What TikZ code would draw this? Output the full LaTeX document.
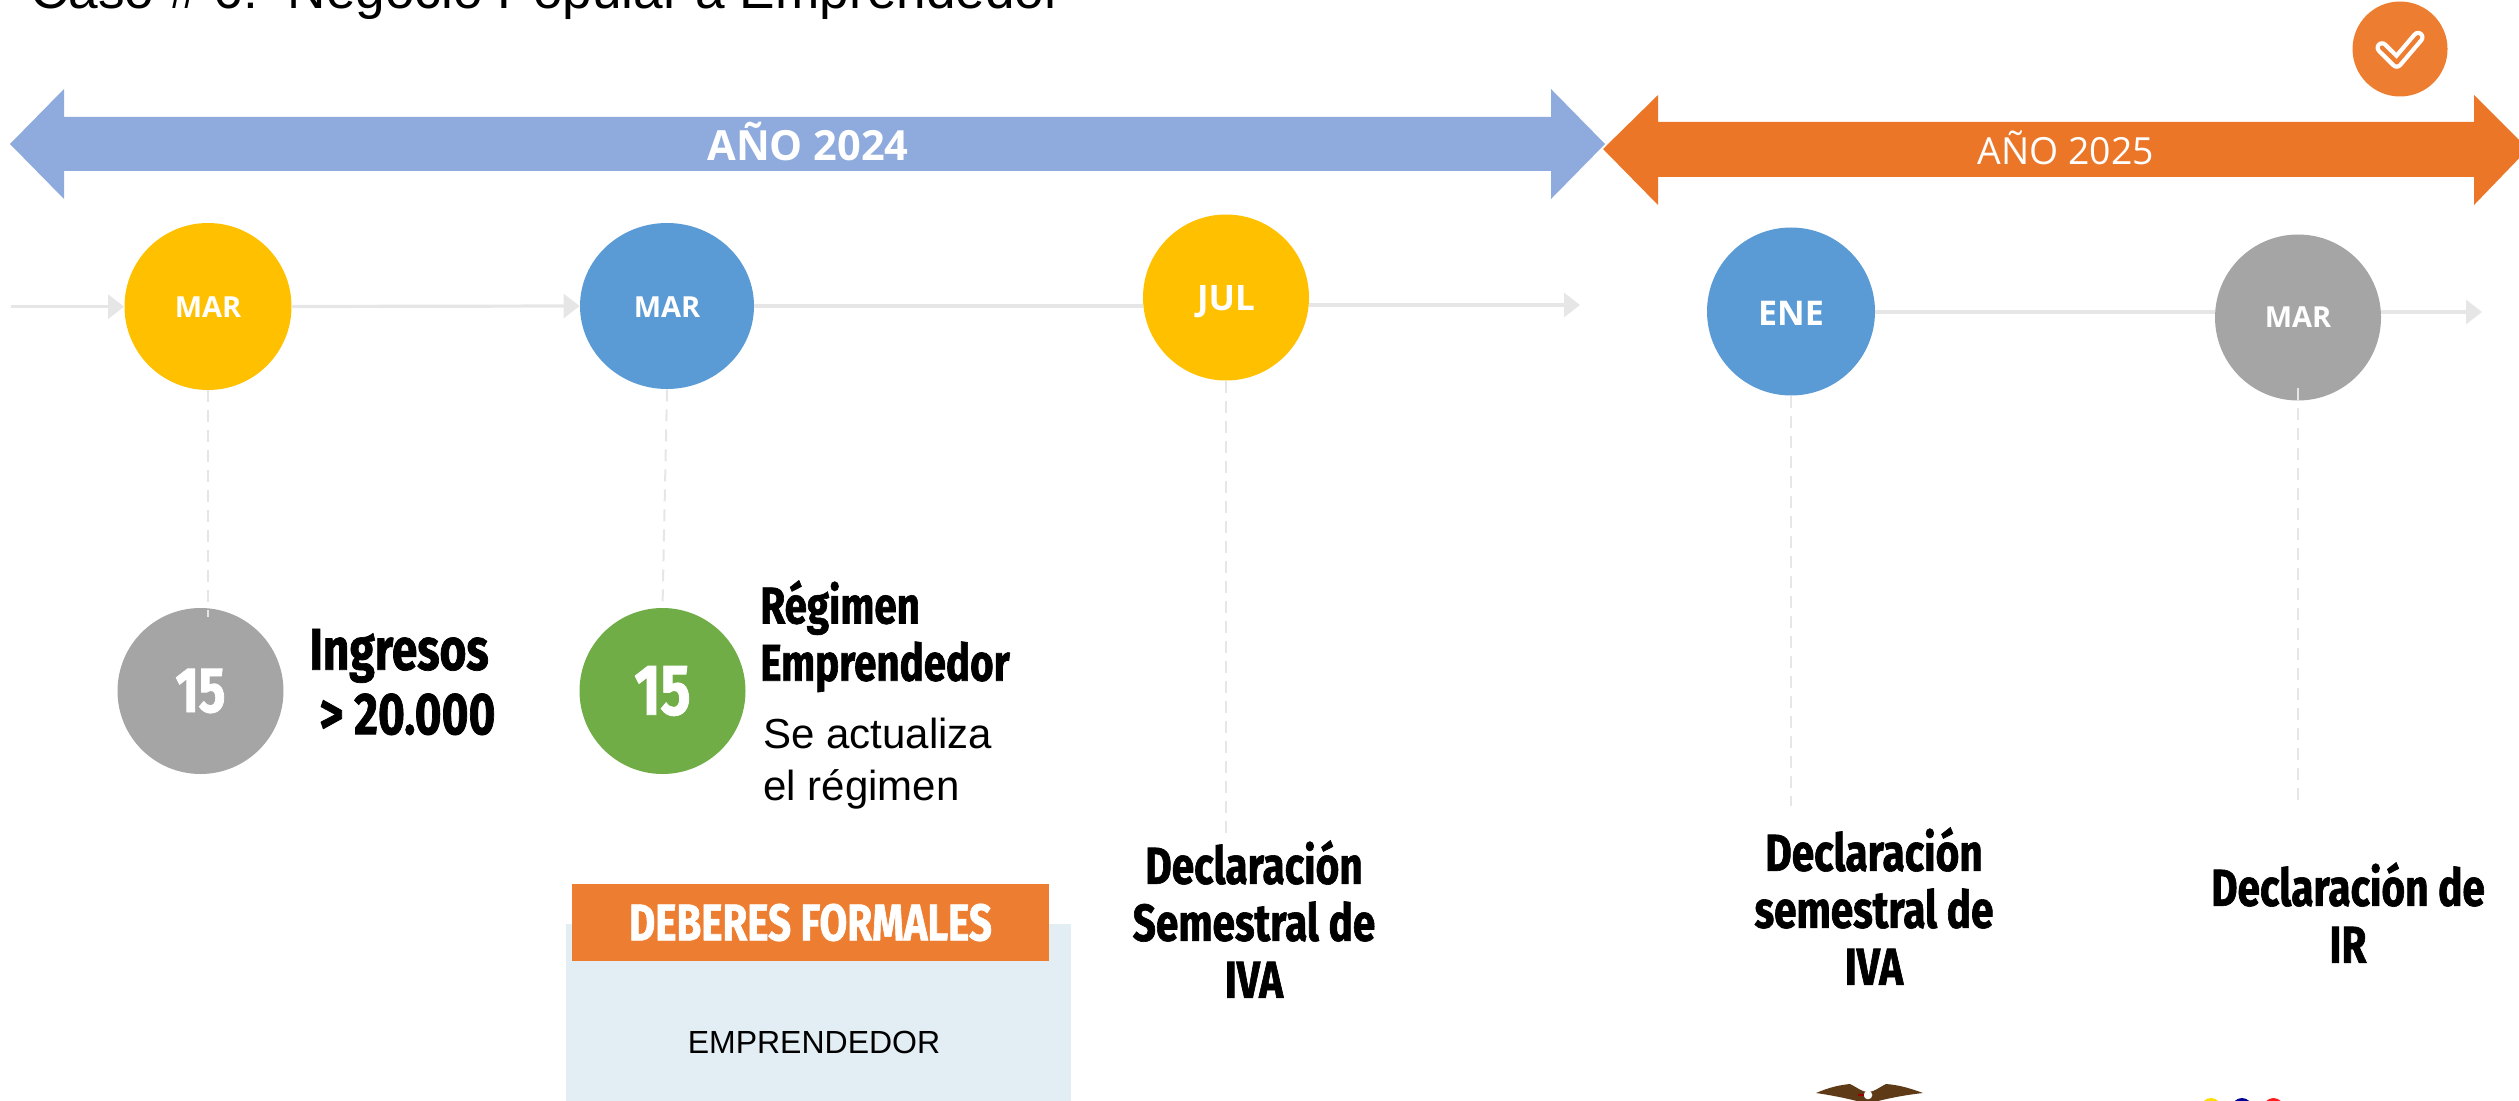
\documentclass[tikz,border=0pt]{standalone}
\usepackage{fontspec}
\usetikzlibrary{shapes.geometric,arrows.meta}
\setmainfont{Liberation Sans}
\newfontfamily\opn{Open Sans}
\newfontfamily\hd[FakeStretch=0.78,BoldFeatures={FakeStretch=0.78,FakeBold=1.2}]{Fira Sans}
\newcommand{\fs}[1]{\fontsize{#1}{#1}\selectfont}
\newcommand{\dn}[2]{\raisebox{-#1pt}[0pt][0pt]{#2}}
\definecolor{cblue}{HTML}{8FAADC}
\definecolor{corange}{HTML}{EB7628}
\definecolor{oo}{HTML}{ED7D31}
\definecolor{cyel}{HTML}{FFC000}
\definecolor{cbl}{HTML}{5B9BD5}
\definecolor{cgr}{HTML}{A5A5A5}
\definecolor{cgn}{HTML}{70AD47}
\definecolor{cln}{HTML}{E7E6E6}
\definecolor{cbox}{HTML}{E2EDF4}
\definecolor{eagle}{HTML}{5E3A17}
\tikzset{
 dot/.style={circle,draw=none,inner sep=0pt,minimum size=#1,text=white},
 tl/.style={draw=cln,line width=1.6pt,-{Triangle[length=8pt,width=12pt,fill=cln]},shorten >=0pt},
 tlplain/.style={draw=cln,line width=1.6pt},
 vd/.style={draw=cln,line width=1pt,dash pattern=on 6pt off 4pt},
 hdtxt/.style={font=\hd\bfseries\fs{26},align=center,inner sep=0pt},
}
\begin{document}
\begin{tikzpicture}[x=.5pt,y=-.5pt]
\useasboundingbox (0,0) rectangle (2519,1101);
\clip (0,0) rectangle (2519,1101);
% title
\node[anchor=base west,inner sep=0pt,font=\fs{26.6}] (title) at (30,9) {Caso \# 6:\ \ Negocio Popular a Emprendedor};
% band arrows
\fill[cblue] (10,144)--(64,89)--(64,117)--(1551,117)--(1551,89)--(1605,144)--(1551,199)--(1551,171)--(64,171)--(64,199)--cycle;
\fill[corange] (1603,149)--(1658,95)--(1658,122)--(2474,122)--(2474,95)--(2528,149)--(2474,205)--(2474,177)--(1658,177)--(1658,205)--cycle;
\node[inner sep=0pt,text=white,font=\opn\bfseries\fs{20.8}] (y24) at (808,142) {AÑO 2024};
\node[inner sep=0pt,text=white,font=\opn\fs{18.7}] (y25) at (2066,148) {AÑO 2025};
% check badge
\node[dot=47.5pt,fill=oo] (chk) at (2400,49) {};
\draw[white,line width=6.5pt,line cap=round,line join=round] (2382,47.7)--(2396.7,62.3)--(2418,37.3);
\draw[oo,line width=2.2pt,line cap=round,line join=round] (2382,47.7)--(2396.7,62.3)--(2418,37.3);
% month circles
\node[dot=83.5pt,fill=cyel,font=\opn\bfseries\fs{14.5}] (m1) at (208,306.5) {\dn{5.75}{MAR}};
\node[ellipse,inner sep=0pt,minimum width=87pt,minimum height=83pt,fill=cbl,text=white,font=\opn\bfseries\fs{14.5}] (m2) at (667,306) {\dn{6}{MAR}};
\node[dot=83pt,fill=cyel,font=\opn\bfseries\fs{17.5}] (m3) at (1226,297.5) {\dn{6.75}{JUL}};
\node[dot=84pt,fill=cbl,font=\opn\bfseries\fs{17}] (m4) at (1791,311.5) {\dn{7.1}{ENE}};
\node[dot=83pt,fill=cgr,font=\opn\bfseries\fs{14.5}] (m5) at (2298,317.5) {\dn{5.25}{MAR}};
% day circles
\node[dot=83pt,fill=cgr,font=\hd\bfseries\fs{32}] (d1) at (200.5,691) {15};
\node[dot=83pt,fill=cgn,font=\hd\bfseries\fs{36}] (d2) at (662.5,691) {15};
% timeline
\coordinate (s0) at (11,306.7);
\coordinate (e3) at (1580,305);
\coordinate (e5) at (2482,312);
\draw[tl] (s0)--(s0-|m1.west);
\draw[tl] (m1.east)--(m2.west);
\draw[tl] (m3.east|-e3)--(e3);
\draw[tlplain] (m2.east)--(m3.west|-m2.east);
\draw[tlplain] (m4.east|-e5)--(m5.west|-e5);
\draw[tl] (m5.east|-e5)--(e5);
% vertical dashes
\coordinate (v1) at (208,617);
\coordinate (v3) at (1226,837);
\coordinate (v4) at (1791,806);
\coordinate (v5) at (2298,800);
\coordinate (v5b) at (2298,388);
\draw[vd] (m1.south)--(v1);
\draw[vd] (m2.south)--(d2.north);
\draw[vd] (m3.south)--(v3);
\draw[vd] (m4.south)--(v4);
\draw[vd] (v5b)--(v5);
% labels
\node[hdtxt,anchor=west,align=left,font=\hd\bfseries\fs{29.5}] (t1) at (309,682) {Ingresos\\[2.7pt]\hspace{5pt}> 20.000};
\node[hdtxt,anchor=north west,align=left,font=\hd\bfseries\fs{25.8}] (t2) at (760,580) {Régimen\\[2.8pt]Emprendedor};
\node[anchor=north west,inner sep=0pt,align=left,font=\fs{21}] (t3) at (763,718) {Se actualiza\\[4.8pt]el régimen};
% deberes box
\fill[cbox] (566,924) rectangle (1071,1110);
\node[inner sep=0pt,minimum width=238.5pt,minimum height=38.5pt,fill=oo,text=white,font=\hd\bfseries\fs{25.8}] (df) at (810.5,922.5) {DEBERES FORMALES};
\node[inner sep=0pt,font=\fs{16}] (em) at (814,1042) {EMPRENDEDOR};
% declarations
\node[hdtxt,anchor=north] (t4) at (1254,840) {Declaración\\[2.5pt]Semestral de\\[2.5pt]IVA};
\node[hdtxt,anchor=north] (t5) at (1874,827) {Declaración\\[2.5pt]semestral de\\[2.5pt]IVA};
\node[hdtxt,anchor=north] (t6) at (2348,862) {Declaración de\\[2.5pt]IR};
% logos at the lower edge
\fill[eagle] (1816,1093) .. controls (1830,1087) and (1840,1085) .. (1850,1084) .. controls (1858,1088) and (1862,1092) .. (1868,1092) .. controls (1874,1092) and (1878,1088) .. (1886,1084) .. controls (1900,1085) and (1912,1089) .. (1923,1093) .. controls (1905,1095) and (1890,1098) .. (1878,1101) -- (1857,1101) .. controls (1845,1098) and (1830,1095) .. (1816,1093) -- cycle;
\fill[white] (1868,1095) circle[radius=4.3];
\fill[red!60!black] (1858,1094) rectangle (1864,1096);
\fill[yellow!80!orange] (2211,1108) circle[radius=10];
\fill[blue!60!black] (2242,1108) circle[radius=10];
\fill[red!85!pink] (2273.5,1108) circle[radius=10];
\end{tikzpicture}
\end{document}
